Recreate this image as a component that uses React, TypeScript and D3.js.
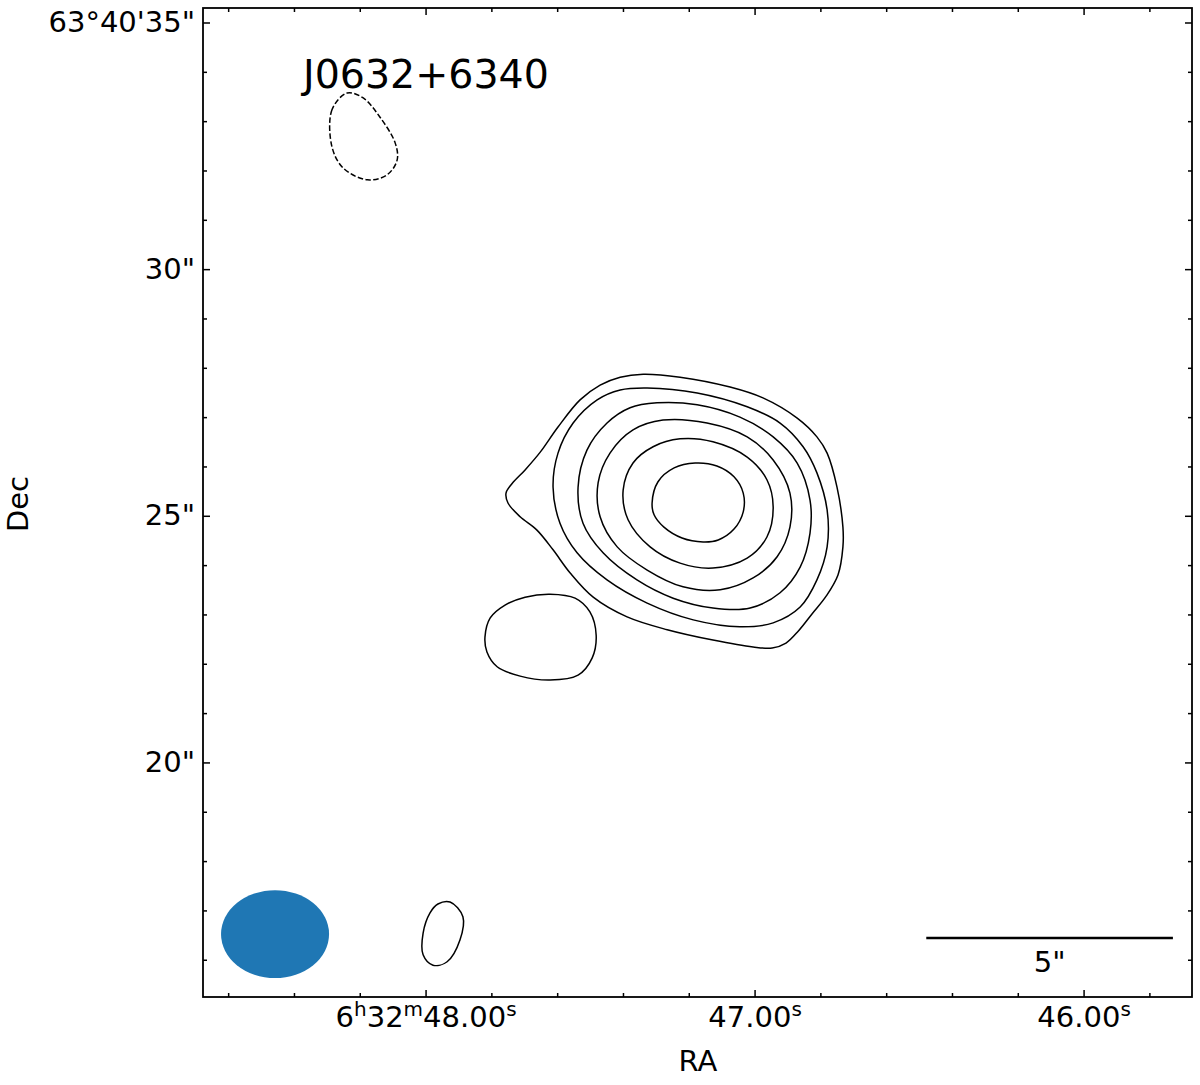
import React from "react";
import * as d3 from "d3";

// ---- Data (RA seconds of 6h32m, Dec arcsec of 63°40') ----
type P = [number, number];

const contour1: P[] = [
  [47.41, 27.82], [47.34, 27.88], [47.228, 27.82], [47.076, 27.62], [46.976, 27.4],
  [46.872, 26.99], [46.812, 26.61], [46.781, 26.28], [46.751, 25.59], [46.733, 24.78],
  [46.733, 24.38], [46.748, 23.81], [46.784, 23.38], [46.827, 23.02], [46.869, 22.67],
  [46.906, 22.43], [46.948, 22.33], [47.006, 22.35], [47.128, 22.49], [47.267, 22.7],
  [47.389, 22.96], [47.492, 23.36], [47.562, 23.85], [47.614, 24.32], [47.663, 24.72],
  [47.714, 24.99], [47.751, 25.27], [47.757, 25.47], [47.739, 25.66], [47.699, 25.94],
  [47.653, 26.3], [47.599, 26.81], [47.532, 27.36], [47.471, 27.66],
];
const contour2: P[] = [
  [47.328, 27.6], [47.176, 27.5], [47.024, 27.22], [46.924, 26.89], [46.854, 26.41],
  [46.812, 25.88], [46.781, 25.13], [46.781, 24.38], [46.812, 23.71], [46.863, 23.16],
  [46.945, 22.84], [47.046, 22.76], [47.188, 22.9], [47.328, 23.24], [47.45, 23.71],
  [47.541, 24.26], [47.593, 24.86], [47.614, 25.59], [47.599, 26.28], [47.553, 26.89],
  [47.48, 27.36], [47.41, 27.56],
];
const contour3: P[] = [
  [47.298, 27.3], [47.176, 27.26], [47.046, 27.01], [46.945, 26.61], [46.872, 26.08],
  [46.833, 25.33], [46.833, 24.66], [46.863, 23.97], [46.924, 23.45], [47.015, 23.14],
  [47.128, 23.14], [47.249, 23.34], [47.359, 23.71], [47.462, 24.26], [47.523, 24.86],
  [47.538, 25.59], [47.511, 26.34], [47.45, 26.89], [47.38, 27.2],
];
const contour4: P[] = [
  [47.28, 26.95], [47.146, 26.89], [47.024, 26.61], [46.945, 26.14], [46.894, 25.47],
  [46.894, 24.78], [46.933, 24.18], [47.006, 23.75], [47.106, 23.51], [47.219, 23.57],
  [47.328, 23.91], [47.419, 24.38], [47.471, 24.99], [47.477, 25.68], [47.441, 26.28],
  [47.371, 26.75],
];
const contour5: P[] = [
  [47.228, 26.57], [47.128, 26.51], [47.024, 26.2], [46.964, 25.74], [46.945, 25.19],
  [46.964, 24.58], [47.024, 24.15], [47.128, 23.95], [47.228, 24.05], [47.319, 24.38],
  [47.386, 24.93], [47.401, 25.53], [47.371, 26.08], [47.31, 26.41],
];
const contour6: P[] = [
  [47.313, 25.27], [47.295, 25.7], [47.246, 25.98], [47.182, 26.08], [47.116, 26.02],
  [47.064, 25.8], [47.036, 25.47], [47.036, 25.09], [47.064, 24.74], [47.112, 24.52],
  [47.158, 24.48], [47.222, 24.56], [47.277, 24.78], [47.307, 25.03],
];
const blobSW: P[] = [
  [47.821, 22.55], [47.805, 22.94], [47.76, 23.2], [47.699, 23.36], [47.623, 23.42],
  [47.547, 23.34], [47.502, 23.06], [47.483, 22.59], [47.495, 22.13], [47.538, 21.78],
  [47.623, 21.68], [47.714, 21.76], [47.784, 21.95], [47.815, 22.25],
];
const blobSmall: P[] = [
  [47.927, 17.18], [47.888, 16.88], [47.897, 16.41], [47.936, 15.97], [47.979, 15.9],
  [48.009, 16.11], [48.009, 16.55], [47.988, 16.96], [47.964, 17.14],
];
const negContour: P[] = [
  [48.24, 33.58], [48.286, 33.24], [48.286, 32.49], [48.252, 32.06], [48.179, 31.82],
  [48.119, 31.92], [48.088, 32.22], [48.094, 32.57], [48.14, 33.09], [48.191, 33.48],
];
const positiveContours: P[][] = [contour1, contour2, contour3, contour4, contour5, contour6, blobSW, blobSmall];
const negativeContours: P[][] = [negContour];

// Beam: center RA(s), Dec("), width("), height(")
const beamCenter: P = [48.459, 16.53];
const beamSize = [2.19, 1.78];

// Scale bar
const scaleBarRight: P = [45.73, 16.45];
const scaleBarLength = 5; // arcsec

// Axis ticks
const raMajor = [48, 47, 46];
const raMajorLabels = [["6", "h", "32", "m", "48.00", "s"], ["47.00", "s"], ["46.00", "s"]];
const raMinor = [48.6, 48.4, 48.2, 47.8, 47.6, 47.4, 47.2, 46.8, 46.6, 46.4, 46.2, 45.8];
const decMajor = [35, 30, 25, 20];
const decMajorLabels = ["63°40'35\"", "30\"", "25\"", "20\""];
const decMinor = [34, 33, 32, 31, 29, 28, 27, 26, 24, 23, 22, 21, 19, 18, 17, 16];

const title = "J0632+6340";

const W = 1200, H = 1085;
const L = 203, R = 1192, T = 8, B = 997;
const FONT = "DejaVu Sans, sans-serif";

export default function App() {
  const x = d3.scaleLinear().domain([48.678, 45.672]).range([L, R]);
  const y = d3.scaleLinear().domain([35.304, 15.255]).range([T, B]);
  const pxPerArcsec = Math.abs(y(0) - y(1));
  const line = d3
    .line<P>()
    .x((d) => x(d[0]))
    .y((d) => y(d[1]))
    .curve(d3.curveCatmullRomClosed.alpha(0.5));

  const majLen = 7, minLen = 4;
  const sbX2 = x(scaleBarRight[0]);
  const sbX1 = sbX2 - scaleBarLength * pxPerArcsec;
  const sbY = y(scaleBarRight[1]);

  return (
    <svg width={W} height={H} style={{ display: "block", position: "absolute", left: 0, top: 0 }} fontFamily={FONT}>
      <rect x={0} y={0} width={W} height={H} fill="#fff" />
      {/* beam */}
      <ellipse
        cx={x(beamCenter[0])}
        cy={y(beamCenter[1])}
        rx={(beamSize[0] / 2) * pxPerArcsec}
        ry={(beamSize[1] / 2) * pxPerArcsec}
        fill="#1f77b4"
      />
      {/* contours */}
      {positiveContours.map((c, i) => (
        <path key={"p" + i} d={line(c) || ""} fill="none" stroke="#000" strokeWidth={1.5} strokeLinejoin="round" />
      ))}
      {negativeContours.map((c, i) => (
        <path key={"n" + i} d={line(c) || ""} fill="none" stroke="#000" strokeWidth={1.5} strokeDasharray="5.5,2.4" />
      ))}
      {/* scale bar */}
      <line x1={sbX1} x2={sbX2} y1={sbY} y2={sbY} stroke="#000" strokeWidth={2.5} />
      <text x={(sbX1 + sbX2) / 2} y={sbY + 34} fontSize={29} textAnchor="middle">5"</text>
      {/* title */}
      <text x={303} y={88} fontSize={39.5}>{title}</text>
      {/* ticks */}
      <g stroke="#000" strokeWidth={1.5}>
        {raMajor.map((v) => (
          <g key={"rM" + v}>
            <line x1={x(v)} x2={x(v)} y1={B} y2={B - majLen} />
            <line x1={x(v)} x2={x(v)} y1={T} y2={T + majLen} />
          </g>
        ))}
        {raMinor.map((v) => (
          <g key={"rm" + v}>
            <line x1={x(v)} x2={x(v)} y1={B} y2={B - minLen} />
            <line x1={x(v)} x2={x(v)} y1={T} y2={T + minLen} />
          </g>
        ))}
        {decMajor.map((v) => (
          <g key={"dM" + v}>
            <line x1={L} x2={L + majLen} y1={y(v)} y2={y(v)} />
            <line x1={R} x2={R - majLen} y1={y(v)} y2={y(v)} />
          </g>
        ))}
        {decMinor.map((v) => (
          <g key={"dm" + v}>
            <line x1={L} x2={L + minLen} y1={y(v)} y2={y(v)} />
            <line x1={R} x2={R - minLen} y1={y(v)} y2={y(v)} />
          </g>
        ))}
      </g>
      {/* frame */}
      <rect x={L} y={T} width={R - L} height={B - T} fill="none" stroke="#000" strokeWidth={1.8} />
      {/* tick labels */}
      {decMajor.map((v, i) => (
        <text key={"dl" + v} x={195} y={y(v) + 9} fontSize={29} textAnchor="end">
          {decMajorLabels[i]}
        </text>
      ))}
      {raMajor.map((v, i) => {
        const parts = raMajorLabels[i];
        return (
          <text key={"rl" + v} x={x(v)} y={1027} fontSize={29} textAnchor="middle">
            {parts.map((p, j) =>
              j % 2 === 0 ? (
                <tspan key={j} dy={j === 0 ? 0 : 11} fontSize={29}>{p}</tspan>
              ) : (
                <tspan key={j} dy={-11} fontSize={20}>{p}</tspan>
              )
            )}
          </text>
        );
      })}
      {/* axis labels */}
      <text x={698} y={1071} fontSize={29} textAnchor="middle">RA</text>
      <text transform={`translate(28,504) rotate(-90)`} fontSize={29} textAnchor="middle">Dec</text>
    </svg>
  );
}
